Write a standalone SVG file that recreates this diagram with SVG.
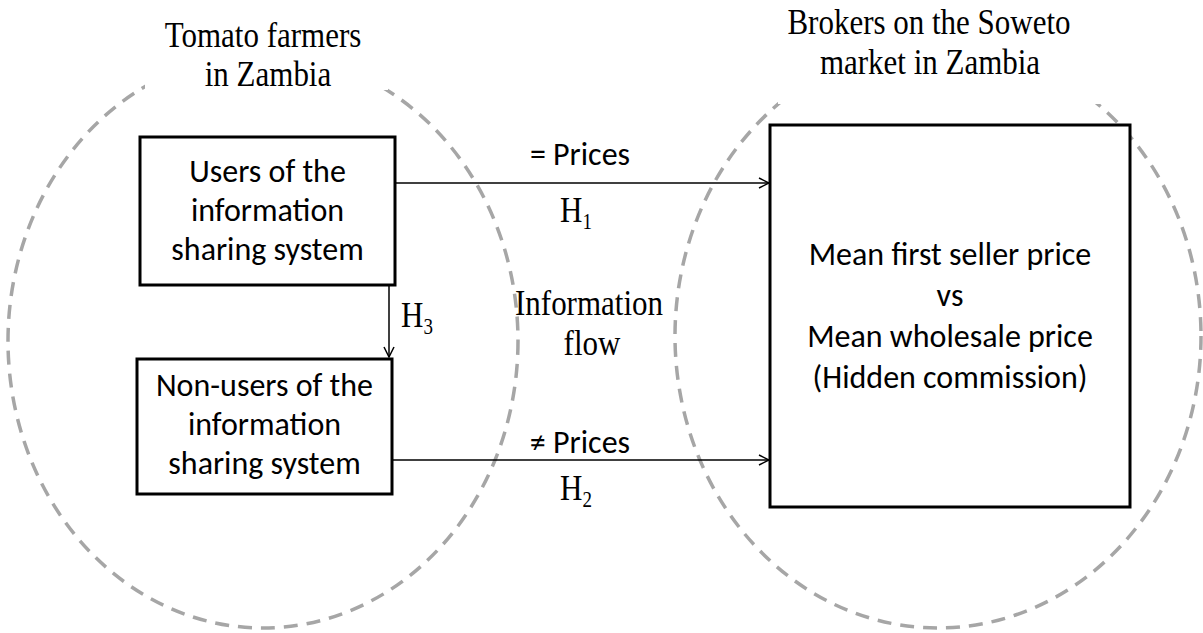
<svg xmlns="http://www.w3.org/2000/svg" width="1203" height="633" viewBox="0 0 1203 633">
<style>
.ser{font-family:"Liberation Serif","Times New Roman",serif;fill:#000}
.san{font-family:Carlito,Lato,"Open Sans",sans-serif;fill:#000}
.t{font-size:31px}
.b{font-size:32px}
.sub{font-size:19px}
.circ{fill:none;stroke:#a6a6a6;stroke-width:3.5;stroke-dasharray:14 9}
.box{fill:#fff;stroke:#000;stroke-width:3}
.con{fill:none;stroke:#000;stroke-width:1.5}
</style>
<defs>
<marker id="arr" viewBox="0 0 12 12" refX="11" refY="6" markerWidth="12" markerHeight="12" markerUnits="userSpaceOnUse" orient="auto">
<path d="M1,1 L11,6 L1,11" fill="none" stroke="#000" stroke-width="1.5"/>
</marker>
</defs>
<rect width="1203" height="633" fill="#fff"/>
<g id="circles">
<ellipse class="circ" cx="263" cy="341" rx="255" ry="287"/>
<ellipse class="circ" cx="938" cy="336" rx="263" ry="292"/>
<rect x="145" y="0" width="243" height="90" fill="#fff"/>
<rect x="778" y="0" width="322" height="104" fill="#fff"/>
</g>
<g id="title-farmers">
<text class="ser t" transform="translate(263,47) scale(1,1.17)" text-anchor="middle">Tomato farmers</text>
<text class="ser t" transform="translate(268,86) scale(1,1.17)" text-anchor="middle">in Zambia</text>
</g>
<g id="title-brokers">
<text class="ser t" transform="translate(929,34) scale(1,1.17)" text-anchor="middle">Brokers on the Soweto</text>
<text class="ser t" transform="translate(930,74) scale(1,1.17)" text-anchor="middle">market in Zambia</text>
</g>
<g id="connectors">
<line class="con" x1="395" y1="183" x2="769" y2="183" marker-end="url(#arr)"/>
<line class="con" x1="392" y1="460" x2="769" y2="460" marker-end="url(#arr)"/>
<line class="con" x1="389" y1="285" x2="389" y2="357" marker-end="url(#arr)"/>
<text class="san b" x="580" y="165" text-anchor="middle">= Prices</text>
<text class="ser t" transform="translate(560,222) scale(1,1.17)">H<tspan class="sub" dy="6">1</tspan></text>
<text class="san b" x="580" y="453" text-anchor="middle">≠ Prices</text>
<text class="ser t" transform="translate(560,500) scale(1,1.17)">H<tspan class="sub" dy="6">2</tspan></text>
<text class="ser t" transform="translate(401,327) scale(1,1.17)">H<tspan class="sub" dy="6">3</tspan></text>
<text class="ser t" transform="translate(589,315) scale(1,1.17)" text-anchor="middle">Information</text>
<text class="ser t" transform="translate(592,355) scale(1,1.17)" text-anchor="middle">flow</text>
</g>
<g id="users">
<rect class="box" x="140" y="137" width="255" height="148"/>
<text class="san b" x="267.5" y="182" text-anchor="middle">Users of the</text>
<text class="san b" x="267.5" y="221" text-anchor="middle">information</text>
<text class="san b" x="267.5" y="260" text-anchor="middle">sharing system</text>
</g>
<g id="non-users">
<rect class="box" x="137" y="359" width="255" height="135"/>
<text class="san b" x="264.5" y="396" text-anchor="middle">Non-users of the</text>
<text class="san b" x="264.5" y="435" text-anchor="middle">information</text>
<text class="san b" x="264.5" y="474" text-anchor="middle">sharing system</text>
</g>
<g id="brokers-box">
<rect class="box" x="770" y="125" width="360" height="382"/>
<text class="san b" x="950" y="265" text-anchor="middle">Mean first seller price</text>
<text class="san b" x="950" y="306" text-anchor="middle">vs</text>
<text class="san b" x="950" y="347" text-anchor="middle">Mean wholesale price</text>
<text class="san b" x="950" y="388" text-anchor="middle">(Hidden commission)</text>
</g>
</svg>
